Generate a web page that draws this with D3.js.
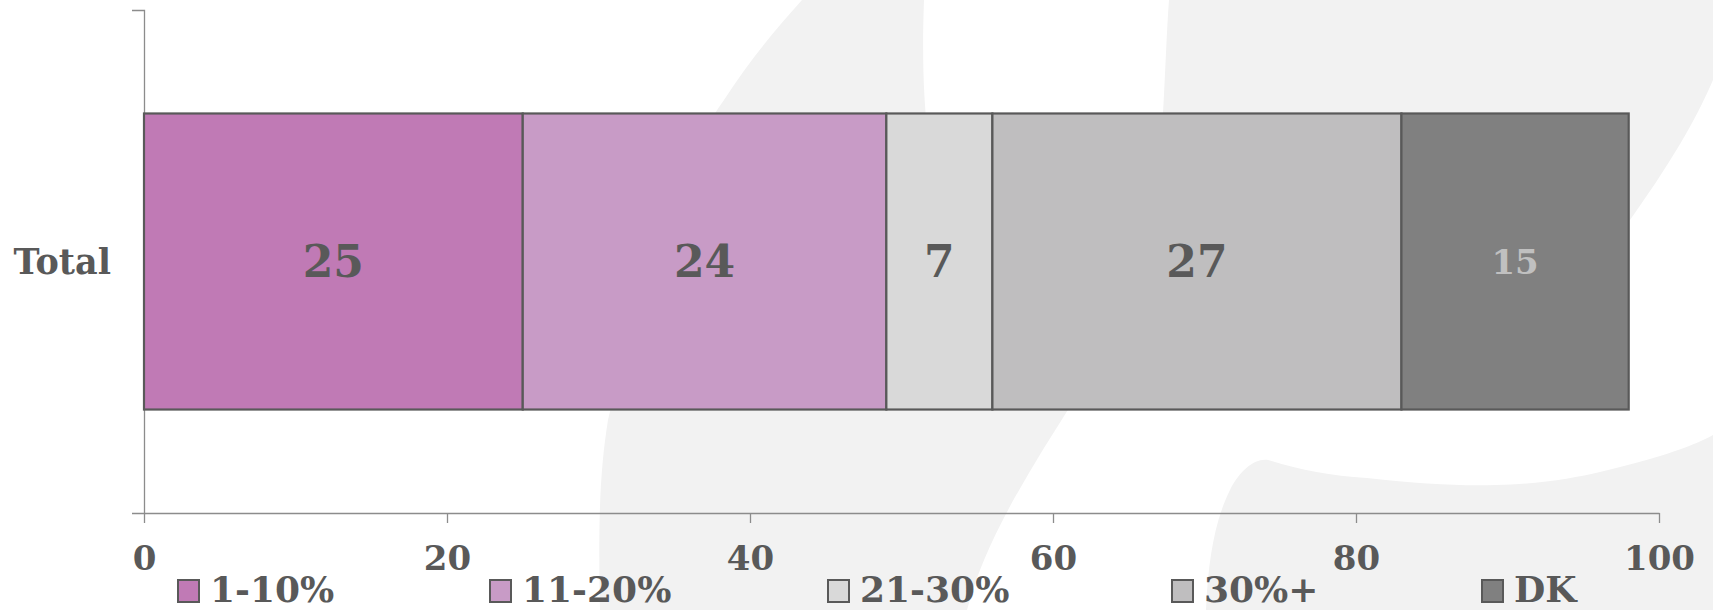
<!DOCTYPE html>
<html>
<head>
<meta charset="utf-8">
<script src="https://cdn.jsdelivr.net/npm/d3@7"></script>
<style>
  html, body { margin: 0; padding: 0; background: #fff; overflow: hidden; }
  svg { display: block; font-family: "DejaVu Serif", serif; font-weight: bold; }
</style>
</head>
<body>
<div id="chart"></div>
<script>

// data
const rows     = ['Total'];
const series   = ['1-10%', '11-20%', '21-30%', '30%+', 'DK'];
const values   = [25, 24, 7, 27, 15];
const colors   = ['#c07ab5', '#c89bc6', '#d9d9d9', '#bfbebf', '#808080'];
const xTicks   = [0, 20, 40, 60, 80, 100];

const W = 1713, H = 610;
const textCol = '#595959', axisCol = '#8c8c8c';

const svg = d3.select('#chart').append('svg')
  .attr('width', W)
  .attr('height', H);

// watermark shapes in the background
const bg = svg.append('g').attr('fill', '#f2f2f2');

bg.append('path')
  .attr('d', 'M802,0 L924,0 C922,60 920,180 960,240 C1000,300 1100,300 1140,240 C1165,200 1163,80 1169,0 ' +
             'L1713,0 L1713,80 C1700,110 1680,150 1630,220 C1500,380 1200,380 1071,405 ' +
             'C1030,470 985,540 967,610 L600,610 C598,520 600,470 608,420 C640,280 680,160 724,100 C750,60 775,30 802,0 Z');

bg.append('path')
  .attr('d', 'M1206,610 C1208,560 1215,520 1230,490 C1240,470 1255,458 1268,460 ' +
             'C1300,470 1330,476 1367,478 C1420,484 1460,486 1496,485 C1540,484 1575,478 1600,472 ' +
             'C1650,460 1690,448 1713,435 L1713,610 Z');

// scales
const x = d3.scaleLinear().domain([0, 100]).range([144, 1659]);
const y = d3.scaleBand().domain(rows).range([10, 513]).padding(0.259);

// axes
const yAxis = svg.append('g')
  .attr('transform', `translate(${x(0)},0)`)
  .call(d3.axisLeft(y).tickSize(0).tickSizeOuter(12).tickPadding(33));

const xAxis = svg.append('g')
  .attr('transform', 'translate(0,513)')
  .call(d3.axisBottom(x).tickValues(xTicks).tickSize(10).tickSizeOuter(0));

[yAxis, xAxis].forEach((g) => {
  g.select('.domain').attr('stroke', axisCol).attr('stroke-width', 1.3);
  g.selectAll('.tick line').attr('stroke', axisCol).attr('stroke-width', 1.3);
  g.selectAll('.tick text')
    .attr('fill', textCol)
    .style('font-family', '"DejaVu Serif", serif')
    .style('font-weight', 'bold');
});

yAxis.selectAll('.tick text').style('font-size', '35px').attr('dy', '0.36em');
xAxis.selectAll('.tick text').style('font-size', '34px').attr('y', 57).attr('dy', 0);

// stacked bar
let acc = 0;
const segs = values.map((v, i) => {
  const s = { key: series[i], value: v, x0: acc, x1: acc + v, color: colors[i] };
  acc += v;
  return s;
});

const bar = svg.append('g');

bar.selectAll('rect')
  .data(segs)
  .join('rect')
  .attr('x', (d) => x(d.x0))
  .attr('y', y('Total'))
  .attr('width', (d) => x(d.x1) - x(d.x0))
  .attr('height', y.bandwidth())
  .attr('fill', (d) => d.color)
  .attr('stroke', '#595959')
  .attr('stroke-width', 2.2);

bar.selectAll('text')
  .data(segs)
  .join('text')
  .attr('x', (d) => (x(d.x0) + x(d.x1)) / 2)
  .attr('y', y('Total') + y.bandwidth() / 2)
  .attr('text-anchor', 'middle')
  .attr('dy', '0.36em')
  .attr('fill', (d) => d.key === 'DK' ? '#c0c0c0' : textCol)
  .style('font-size', (d) => d.key === 'DK' ? '34px' : '44px')
  .text((d) => d.value);

// legend
const legendX = [178, 490, 828, 1172, 1482];

const legend = svg.append('g')
  .selectAll('g')
  .data(series)
  .join('g')
  .attr('transform', (d, i) => `translate(${legendX[i]},580)`);

legend.append('rect')
  .attr('width', 21)
  .attr('height', 22)
  .attr('fill', (d, i) => colors[i])
  .attr('stroke', '#595959')
  .attr('stroke-width', 2);

legend.append('text')
  .attr('x', 32)
  .attr('y', 22)
  .attr('fill', textCol)
  .style('font-size', '36px')
  .text((d) => d);

</script>
</body>
</html>
